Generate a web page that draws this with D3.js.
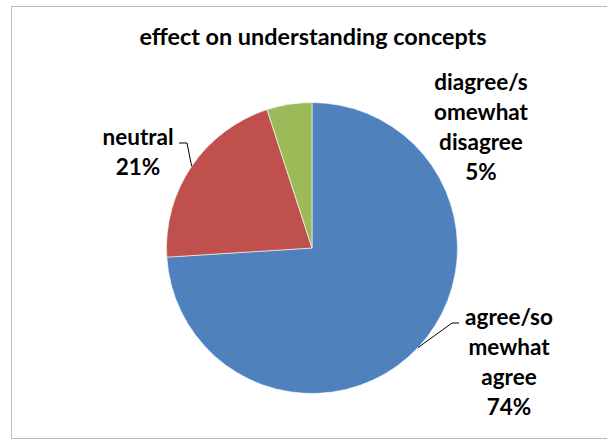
<!DOCTYPE html>
<html>
<head>
<meta charset="utf-8">
<script src="https://cdn.jsdelivr.net/npm/d3@7"></script>
<style>
  html, body { margin: 0; padding: 0; background: #fff; }
  svg { display: block; }
  text { font-family: Lato, "Open Sans", sans-serif; font-weight: bold; fill: #000; }
</style>
</head>
<body>
<svg id="chart" width="607" height="440"></svg>
<script>
// Survey responses: effect on understanding concepts
const categories = ["agree/somewhat agree", "neutral", "diagree/somewhat disagree"];
const percents = [74, 21, 5];
const labelLines = [
  ["agree/so", "mewhat", "agree"],
  ["neutral"],
  ["diagree/s", "omewhat", "disagree"]
];
const colors = ["#4F81BD", "#C0504D", "#9BBB59"];
const title = "effect on understanding concepts";

const svg = d3.select("#chart");

// chart area frame
svg.append("rect")
  .attr("x", 11.5).attr("y", 6.5)
  .attr("width", 620).attr("height", 432)
  .attr("fill", "#fff").attr("stroke", "#bcbcbc").attr("stroke-width", 1);

svg.append("text")
  .attr("x", 313).attr("y", 45)
  .attr("text-anchor", "middle")
  .style("font-size", "23.4px")
  .text(title);

const cx = 312, cy = 248, r = 145.5;
const data = categories.map((c, i) => ({ name: c, value: percents[i], lines: labelLines[i], color: colors[i] }));

const pie = d3.pie().value(d => d.value).sort(null).startAngle(0).endAngle(2 * Math.PI);
const arcs = pie(data);
const arc = d3.arc().innerRadius(0).outerRadius(r);

const g = svg.append("g").attr("transform", `translate(${cx},${cy})`);
g.selectAll("path.slice").data(arcs).join("path")
  .attr("class", "slice")
  .attr("d", arc)
  .attr("fill", d => d.data.color)
  .attr("stroke", "#fff")
  .attr("stroke-width", 0.6);

// label placement: text centre, first baseline, leader start and elbow (absolute coords)
const labelLayout = [
  { x: 509, y: 325, lead: [[459, 323], [452, 323]] },
  { x: 138, y: 145, lead: [[179, 143], [187, 143]] },
  { x: 481, y: 90, lead: null }
];
const lineH = 30;

arcs.forEach((a, i) => {
  const L = labelLayout[i];
  const t = svg.append("text")
    .attr("text-anchor", "middle")
    .style("font-size", "22.5px");
  const lines = a.data.lines.concat([a.data.value + "%"]);
  lines.forEach((s, k) => {
    t.append("tspan").attr("x", L.x).attr("y", L.y + k * lineH).text(s);
  });
  if (L.lead) {
    const mid = (a.startAngle + a.endAngle) / 2;
    const ex = cx + r * Math.sin(mid), ey = cy - r * Math.cos(mid);
    const pts = L.lead.concat([[ex, ey]]);
    svg.append("path")
      .attr("d", d3.line()(pts))
      .attr("fill", "none")
      .attr("stroke", "#000")
      .attr("stroke-width", 1);
  }
});
</script>
</body>
</html>
